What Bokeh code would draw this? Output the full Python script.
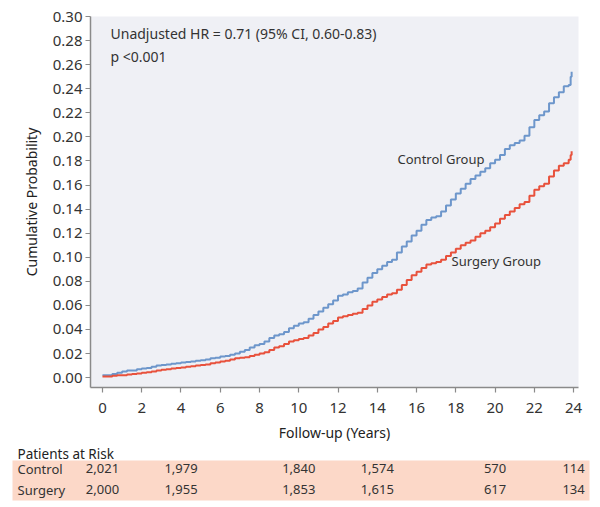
from bokeh.plotting import figure
from bokeh.layouts import column
from bokeh.models import Range1d, FixedTicker, PrintfTickFormatter, ColumnDataSource
from bokeh.core.properties import value
from bokeh.embed import file_html
from bokeh.resources import INLINE

# ---------------- data ----------------
control_t = [0, 0.25, 0.5, 0.75, 1.0, 1.25, 1.5, 1.75, 2.0, 2.25, 2.5, 2.75, 3.0, 3.25, 3.5, 3.75,
             4.0, 4.25, 4.5, 4.75, 5.0, 5.25, 5.5, 5.75, 6.0, 6.25, 6.5, 6.75, 7.0, 7.25, 7.5, 7.75,
             8.0, 8.25, 8.5, 8.75, 9.0, 9.25, 9.5, 9.75, 10.0, 10.25, 10.5, 10.75, 11.0, 11.25,
             11.5, 11.75, 12.0, 12.25, 12.5, 12.75, 13.0, 13.25, 13.5, 13.75, 14.0, 14.25, 14.5,
             14.75, 15.0, 15.25, 15.5, 15.75, 16.0, 16.25, 16.5, 16.75, 17.0, 17.25, 17.5, 17.75,
             18.0, 18.25, 18.5, 18.75, 19.0, 19.25, 19.5, 19.75, 20.0, 20.25, 20.5, 20.75, 21.0,
             21.25, 21.5, 21.75, 22.0, 22.25, 22.5, 22.75, 23.0, 23.25, 23.5, 23.75, 23.85, 23.9]
control_p = [0.002, 0.002, 0.003, 0.004, 0.005, 0.006, 0.006, 0.007, 0.0075, 0.008, 0.009, 0.010,
             0.0105, 0.011, 0.0115, 0.012, 0.0125, 0.013, 0.0135, 0.014, 0.0145, 0.015, 0.016,
             0.0165, 0.0175, 0.018, 0.019, 0.020, 0.0215, 0.023, 0.025, 0.027, 0.028, 0.030, 0.033,
             0.035, 0.036, 0.038, 0.041, 0.043, 0.045, 0.046, 0.049, 0.052, 0.055, 0.058, 0.061,
             0.064, 0.068, 0.069, 0.071, 0.072, 0.074, 0.079, 0.083, 0.087, 0.090, 0.093, 0.096,
             0.098, 0.104, 0.109, 0.113, 0.118, 0.122, 0.127, 0.131, 0.133, 0.134, 0.138, 0.143,
             0.148, 0.153, 0.157, 0.161, 0.165, 0.168, 0.171, 0.174, 0.178, 0.181, 0.185, 0.190,
             0.193, 0.195, 0.197, 0.201, 0.208, 0.214, 0.218, 0.221, 0.228, 0.233, 0.237, 0.242,
             0.243, 0.250, 0.254]

surgery_t = list(control_t)
surgery_p = [0.001, 0.001, 0.0015, 0.002, 0.002, 0.0025, 0.003, 0.0035, 0.004, 0.0045, 0.005,
             0.006, 0.0065, 0.007, 0.0075, 0.008, 0.0085, 0.009, 0.0095, 0.010, 0.0105, 0.011,
             0.012, 0.0125, 0.0135, 0.014, 0.015, 0.016, 0.0165, 0.017, 0.018, 0.019, 0.020, 0.021,
             0.023, 0.025, 0.026, 0.028, 0.030, 0.031, 0.032, 0.033, 0.035, 0.037, 0.040, 0.042,
             0.045, 0.047, 0.050, 0.051, 0.052, 0.053, 0.054, 0.057, 0.060, 0.063, 0.065, 0.067,
             0.069, 0.070, 0.073, 0.077, 0.081, 0.085, 0.088, 0.091, 0.094, 0.095, 0.096, 0.098,
             0.101, 0.104, 0.107, 0.110, 0.112, 0.114, 0.117, 0.120, 0.122, 0.125, 0.128, 0.132,
             0.135, 0.138, 0.141, 0.144, 0.146, 0.151, 0.156, 0.159, 0.161, 0.167, 0.172, 0.176,
             0.178, 0.181, 0.185, 0.188]

x_ticks = [0, 2, 4, 6, 8, 10, 12, 14, 16, 18, 20, 22, 24]
y_ticks = [0.00, 0.02, 0.04, 0.06, 0.08, 0.10, 0.12, 0.14, 0.16, 0.18, 0.20, 0.22, 0.24, 0.26, 0.28, 0.30]

risk_years = [0, 4, 10, 14, 20, 24]
risk_control = ["2,021", "1,979", "1,840", "1,574", "570", "114"]
risk_surgery = ["2,000", "1,955", "1,853", "1,615", "617", "134"]

annot_lines = ["Unadjusted HR = 0.71 (95% CI, 0.60-0.83)", "p <0.001"]
group_names = ["Control Group", "Surgery Group"]

FONT = "Noto Sans"
TXT = "#333333"
BLUE = "#6d96cb"
RED = "#e8513c"

# ---------------- main plot ----------------
x0, x1 = -0.61, 24.25
BL, BR = 90, 22
p = figure(width=600, height=444, output_backend="svg", toolbar_location=None,
           x_range=Range1d(x0, x1), y_range=Range1d(-0.0082, 0.30),
           min_border_left=BL, min_border_right=BR, min_border_top=16, min_border_bottom=51)
p.background_fill_color = "#eff0f5"
p.border_fill_color = "white"
p.outline_line_color = None
p.grid.visible = False

for ax in (p.xaxis[0], p.yaxis[0]):
    ax.axis_line_color = "#8a8a8a"
    ax.axis_line_width = 1.5
    ax.major_tick_line_color = "#8a8a8a"
    ax.major_tick_line_width = 1.2
    ax.major_tick_out = 5
    ax.major_tick_in = 0
    ax.minor_tick_out = 0
    ax.minor_tick_in = 0
    ax.major_label_text_font = FONT
    ax.major_label_text_font_size = "15px"
    ax.major_label_text_color = TXT
    ax.axis_label_text_font = FONT
    ax.axis_label_text_font_size = "14px"
    ax.axis_label_text_font_style = "normal"
    ax.axis_label_text_color = "#222222"

p.xaxis.ticker = FixedTicker(ticks=x_ticks)
p.yaxis.ticker = FixedTicker(ticks=y_ticks)
p.yaxis.formatter = PrintfTickFormatter(format="%.2f")
p.xaxis.axis_label = "Follow-up (Years)"
p.yaxis.axis_label = "Cumulative Probability"
p.xaxis.major_label_standoff = 10
p.yaxis.major_label_standoff = 3
p.xaxis.axis_label_standoff = 7
p.yaxis.axis_label_standoff = 9

p.step(control_t, control_p, mode="after", line_color=BLUE, line_width=2)
p.step(surgery_t, surgery_p, mode="after", line_color=RED, line_width=2)

p.text(x=[0.41, 0.41], y=[0.286, 0.267], text=annot_lines,
       text_font=value(FONT), text_font_size="14px", text_color=TXT,
       text_baseline="middle", text_align="left")
p.text(x=[15.03, 17.78], y=[0.182, 0.097], text=group_names,
       text_font=value(FONT), text_font_size="13px", text_color=TXT,
       text_baseline="middle", text_align="left")

# ---------------- at-risk table ----------------
TH = 61
px_per_year = (600 - BL - BR) / (x1 - x0)
tx0 = x0 - BL / px_per_year
tx1 = x1 + BR / px_per_year
t = figure(width=600, height=TH, output_backend="svg", toolbar_location=None,
           x_range=Range1d(tx0, tx1), y_range=Range1d(0, TH),
           x_axis_location=None, y_axis_location=None,
           min_border=0, min_border_left=0, min_border_right=0,
           min_border_top=0, min_border_bottom=0)
for fig in (p, t):
    try:
        fig.frame_align = False
    except Exception:
        pass
t.grid.visible = False
t.outline_line_color = None
t.background_fill_color = "white"
t.border_fill_color = "white"

def yr(px):
    return tx0 + px / px_per_year

t.quad(left=[yr(12)], right=[yr(589)], bottom=[5], top=[45],
       fill_color="#fcd8c8", line_color=None)
t.text(x=[yr(17)], y=[52], text=["Patients at Risk"], text_font=value(FONT),
       text_font_size="13.5px", text_color="#222222", text_baseline="middle")
t.text(x=[yr(17), yr(17)], y=[37, 16], text=["Control", "Surgery"], text_font=value(FONT),
       text_font_size="13px", text_color=TXT, text_baseline="middle")
src = ColumnDataSource(dict(x=risk_years, yc=[37] * len(risk_years), ys=[16] * len(risk_years),
                            c=risk_control, s=risk_surgery))
t.text(x="x", y="yc", text="c", source=src, text_font=value(FONT), text_font_size="13px",
       text_color=TXT, text_baseline="middle", text_align="center")
t.text(x="x", y="ys", text="s", source=src, text_font=value(FONT), text_font_size="13px",
       text_color=TXT, text_baseline="middle", text_align="center")

layout = column(p, t, spacing=0)
open("out.html", "w").write(file_html(layout, INLINE))
